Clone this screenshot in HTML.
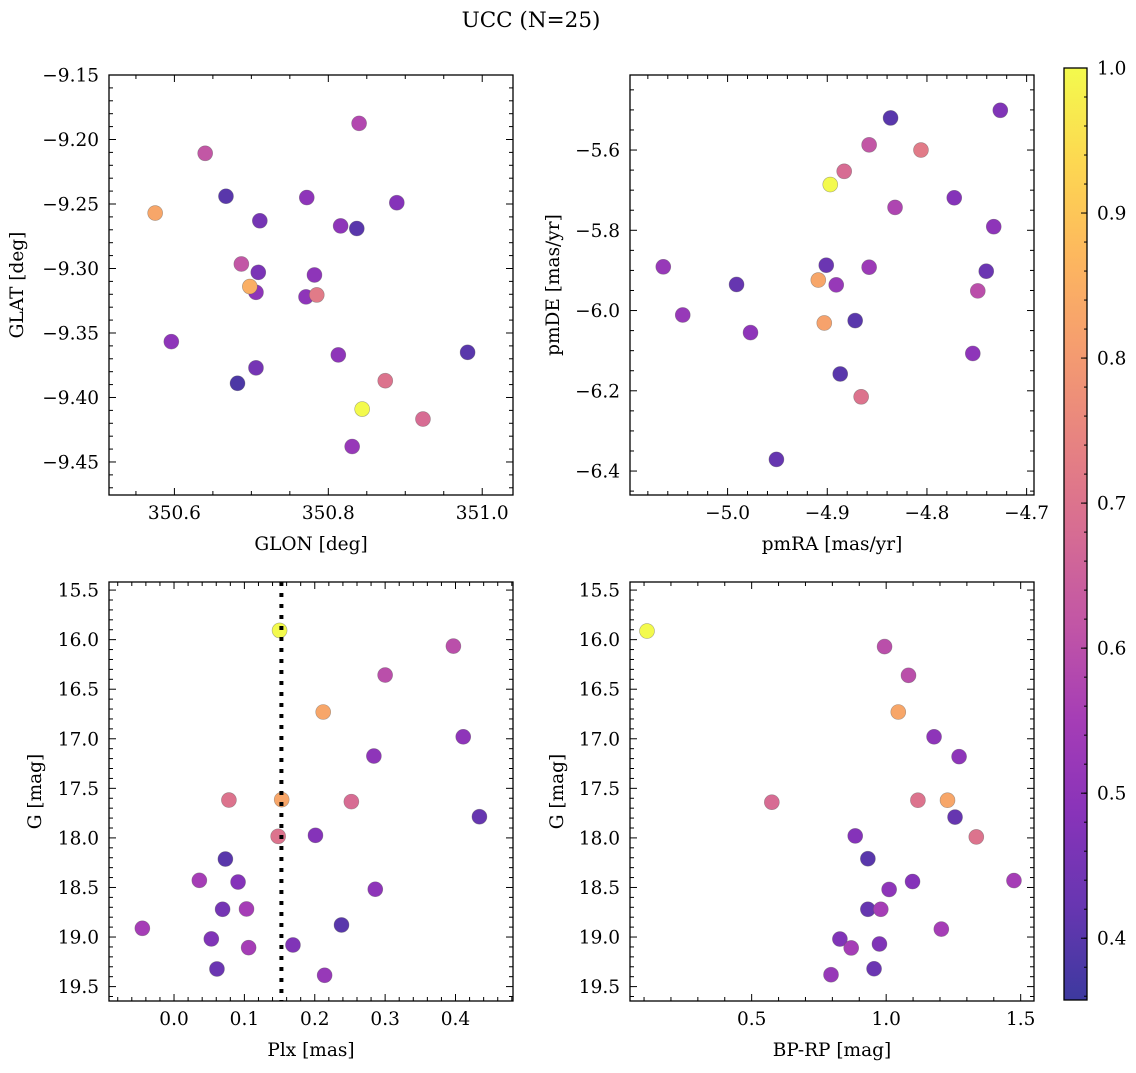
<!DOCTYPE html>
<html><head><meta charset="utf-8">
<style>
html,body{margin:0;padding:0;background:#fff;}
svg text{font-family:"DejaVu Serif","Liberation Serif",serif;fill:#000;}
</style></head>
<body>
<svg id="fig" width="1136" height="1068" viewBox="0 0 1136 1068" xmlns="http://www.w3.org/2000/svg">
<defs>
<linearGradient id="plasmaGrad" x1="0" y1="1" x2="0" y2="0"></linearGradient>
</defs>
<text x="531" y="27" font-size="21.5" text-anchor="middle">UCC (N=25)</text>
</svg>
<script>
// ---- data ----
const probTL = [0.58,0.62,0.40,0.83,0.45,0.50,0.50,0.40,0.48,0.62,0.46,0.85,0.50,0.50,0.50,0.72,0.50,0.50,0.40,0.45,0.38,0.70,1.0,0.68,0.52];
const glon = [350.840,350.640,350.667,350.575,350.711,350.772,350.816,350.837,350.889,350.687,350.709,350.698,350.706,350.782,350.771,350.785,350.596,350.813,350.981,350.706,350.682,350.874,350.844,350.923,350.831];
const glat = [-9.1875,-9.2107,-9.244,-9.257,-9.263,-9.245,-9.267,-9.269,-9.249,-9.2965,-9.303,-9.314,-9.3185,-9.305,-9.322,-9.3205,-9.3567,-9.367,-9.365,-9.377,-9.389,-9.387,-9.409,-9.4167,-9.438];

const probTR = [0.40,0.47,0.62,0.72,0.68,1.0,0.48,0.57,0.50,0.52,0.43,0.53,0.43,0.42,0.83,0.52,0.60,0.52,0.82,0.40,0.50,0.50,0.40,0.70,0.42];
const pmra = [-4.8365,-4.7264,-4.858,-4.806,-4.883,-4.897,-4.7726,-4.832,-4.733,-5.0645,-4.901,-4.858,-4.7405,-4.991,-4.909,-4.891,-4.749,-5.045,-4.903,-4.872,-4.977,-4.754,-4.887,-4.866,-4.951];
const pmde = [-5.520,-5.501,-5.587,-5.600,-5.653,-5.686,-5.719,-5.743,-5.791,-5.891,-5.887,-5.892,-5.902,-5.935,-5.924,-5.936,-5.951,-6.011,-6.031,-6.025,-6.055,-6.107,-6.158,-6.215,-6.371];

const probBL = [1.0,0.60,0.60,0.83,0.50,0.50,0.70,0.83,0.68,0.42,0.70,0.48,0.40,0.55,0.48,0.50,0.45,0.55,0.55,0.40,0.47,0.55,0.47,0.43,0.52];
const plx = [0.150,0.397,0.300,0.212,0.411,0.284,0.078,0.153,0.252,0.434,0.148,0.201,0.073,0.036,0.091,0.286,0.069,0.103,-0.045,0.238,0.053,0.106,0.169,0.061,0.214];
const gmagBL = [15.907,16.065,16.357,16.73,16.98,17.174,17.618,17.614,17.634,17.786,17.984,17.974,18.213,18.428,18.445,18.518,18.72,18.717,18.912,18.878,19.019,19.107,19.08,19.322,19.386];
const plxLine = [0.1526];

const probBR = [1.0,0.60,0.60,0.83,0.50,0.50,0.68,0.70,0.83,0.42,0.70,0.48,0.40,0.55,0.48,0.50,0.42,0.55,0.55,0.47,0.55,0.47,0.43,0.52];
const bprp = [0.111,0.994,1.083,1.045,1.178,1.271,0.575,1.118,1.228,1.256,1.335,0.885,0.932,1.475,1.098,1.011,0.932,0.98,1.205,0.828,0.870,0.975,0.955,0.795];
const gmagBR = [15.913,16.07,16.36,16.73,16.98,17.18,17.64,17.62,17.62,17.79,17.99,17.98,18.21,18.43,18.44,18.52,18.72,18.72,18.92,19.02,19.11,19.07,19.32,19.38];

const cbarTicks = [0.4,0.5,0.6,0.7,0.8,0.9,1.0];
const cbarRange = [0.3574,1.0];

// ---- helpers ----
const NS="http://www.w3.org/2000/svg";
const svg=document.getElementById('fig');
const FS=18.5;
function mk(tag,attrs,parent){const e=document.createElementNS(NS,tag);for(const k in attrs)e.setAttribute(k,attrs[k]);(parent||svg).appendChild(e);return e;}
const plasma=[[13,8,135],[65,4,157],[106,0,168],[143,13,164],[177,42,144],[204,71,120],[225,100,98],[242,132,75],[252,166,54],[252,206,37],[240,249,33]];
function cmap(t){t=Math.max(0,Math.min(1,t));const s=t*10,i=Math.min(9,Math.floor(s)),f=s-i;const a=plasma[i],b=plasma[i+1];
 const c=[0,1,2].map(k=>Math.round((a[k]+(b[k]-a[k])*f)*0.8+255*0.2));return `rgb(${c[0]},${c[1]},${c[2]})`;}
function pcol(p){return cmap((p-cbarRange[0])/(cbarRange[1]-cbarRange[0]));}
function fmt(v,d){let s=v.toFixed(d);return s.replace('-','\u2212');}

function panel(o){
 const g=mk('g',{});
 
 
 const X=v=>o.x0+(v-o.xmin)/(o.xmax-o.xmin)*(o.x1-o.x0);
 const Y=v=>o.flip? o.y0+(v-o.ymin)/(o.ymax-o.ymin)*(o.y1-o.y0) : o.y1-(v-o.ymin)/(o.ymax-o.ymin)*(o.y1-o.y0);
 const tg=mk('g',{stroke:'#000','stroke-width':1},g);
 
 
 const eps=1e-9;
 const lo=Math.ceil((o.xmin)/o.xminor-eps);
 for(let k=lo;k*o.xminor<=o.xmax+eps;k++){const v=k*o.xminor;const px=X(v);
  const maj=Math.abs(v/o.xmajor-Math.round(v/o.xmajor))<1e-6;const L=maj?7:4;
  mk('line',{x1:px,x2:px,y1:o.y1,y2:o.y1-L},tg);mk('line',{x1:px,x2:px,y1:o.y0,y2:o.y0+L},tg);
  if(maj){const t=mk('text',{x:px,y:o.y1+24,'font-size':FS,'text-anchor':'middle',stroke:'none'},g);t.textContent=fmt(v,o.xd);
   
   }
 }
 const ylo=Math.min(o.ymin,o.ymax),yhi=Math.max(o.ymin,o.ymax);
 for(let k=Math.ceil(ylo/o.yminor-eps);k*o.yminor<=yhi+eps;k++){const v=k*o.yminor;const py=Y(v);
  const maj=Math.abs(v/o.ymajor-Math.round(v/o.ymajor))<1e-6;const L=maj?7:4;
  mk('line',{x1:o.x0,x2:o.x0+L,y1:py,y2:py},tg);mk('line',{x1:o.x1,x2:o.x1-L,y1:py,y2:py},tg);
  if(maj){const t=mk('text',{x:o.x0-10,y:py+6.5,'font-size':FS,'text-anchor':'end',stroke:'none'},g);t.textContent=fmt(v,o.yd);
   
   }
 }
 const order=o.xs.map((_,i)=>i).sort((a,b)=>o.ps[a]-o.ps[b]);
 order.forEach(i=>{const c=mk('circle',{cx:X(o.xs[i]),cy:Y(o.ys[i]),r:7.5,fill:pcol(o.ps[i]),stroke:'rgba(90,90,90,0.5)','stroke-width':0.6},g);
  
  });
 if(o.vline){o.vline.forEach(v=>{const l=mk('line',{x1:X(v),x2:X(v),y1:o.y0,y2:o.y1,stroke:'#000','stroke-width':4,'stroke-dasharray':'4 7'},g);
  
  });}
 const fr=mk('rect',{x:o.x0,y:o.y0,width:o.x1-o.x0,height:o.y1-o.y0,fill:'none',stroke:'#000','stroke-width':1.3},g);
 
 
 const xl=mk('text',{x:(o.x0+o.x1)/2,y:o.y1+55,'font-size':FS,'text-anchor':'middle'},g);xl.textContent=o.xlabel;
 
 
 const cy=(o.y0+o.y1)/2;
 const yl=mk('text',{x:o.ylx,y:cy,'font-size':FS,'text-anchor':'middle',transform:`rotate(-90 ${o.ylx} ${cy})`},g);yl.textContent=o.ylabel;
 
 
}

panel({name:'glon-glat-panel',x0:109,x1:513,y0:75,y1:495,xmin:350.515,xmax:351.04,ymin:-9.4756,ymax:-9.15,flip:false,
 xmajor:0.2,xminor:0.05,ymajor:0.05,yminor:0.01,xd:1,yd:2,xs:glon,ys:glat,ps:probTL,xlabel:'GLON [deg]',ylabel:'GLAT [deg]',ylx:23});
panel({name:'pm-panel',x0:630,x1:1034,y0:75,y1:495,xmin:-5.0979,xmax:-4.6926,ymin:-6.4597,ymax:-5.413,flip:false,
 xmajor:0.1,xminor:0.02,ymajor:0.2,yminor:0.05,xd:1,yd:1,xs:pmra,ys:pmde,ps:probTR,xlabel:'pmRA [mas/yr]',ylabel:'pmDE [mas/yr]',ylx:559});
panel({name:'plx-g-panel',x0:109,x1:513,y0:582,y1:1001,xmin:-0.0924,xmax:0.4817,ymin:15.4185,ymax:19.6453,flip:true,
 xmajor:0.1,xminor:0.02,ymajor:0.5,yminor:0.1,xd:1,yd:1,xs:plx,ys:gmagBL,ps:probBL,vline:plxLine,xlabel:'Plx [mas]',ylabel:'G [mag]',ylx:41});
panel({name:'cmd-panel',x0:630,x1:1034,y0:582,y1:1001,xmin:0.0478,xmax:1.5495,ymin:15.4185,ymax:19.6453,flip:true,
 xmajor:0.5,xminor:0.1,ymajor:0.5,yminor:0.1,xd:1,yd:1,xs:bprp,ys:gmagBR,ps:probBR,xlabel:'BP-RP [mag]',ylabel:'G [mag]',ylx:563});

// ---- colorbar ----
const cb={x0:1064,x1:1087,y0:68,y1:1000};
const grad=document.getElementById('plasmaGrad');
for(let i=0;i<=20;i++){mk('stop',{offset:i/20,'stop-color':cmap(i/20)},grad);}
const cg=mk('g',{});


mk('rect',{x:cb.x0,y:cb.y0,width:cb.x1-cb.x0,height:cb.y1-cb.y0,fill:'url(#plasmaGrad)',stroke:'#000','stroke-width':1.3},cg);
const CY=v=>cb.y1-(v-cbarRange[0])/(cbarRange[1]-cbarRange[0])*(cb.y1-cb.y0);
for(let k=Math.ceil(cbarRange[0]/0.02);k*0.02<=cbarRange[1]+1e-9;k++){const v=k*0.02;const y=CY(v);
 mk('line',{x1:cb.x1-3,x2:cb.x1,y1:y,y2:y,stroke:'#000','stroke-width':1},cg);}
cbarTicks.forEach(v=>{const y=CY(v);mk('line',{x1:cb.x1-6,x2:cb.x1,y1:y,y2:y,stroke:'#000','stroke-width':1},cg);
 const t=mk('text',{x:cb.x1+10,y:y+6.5,'font-size':FS},cg);t.textContent=v.toFixed(1);
 
 });
</script>
</body></html>
